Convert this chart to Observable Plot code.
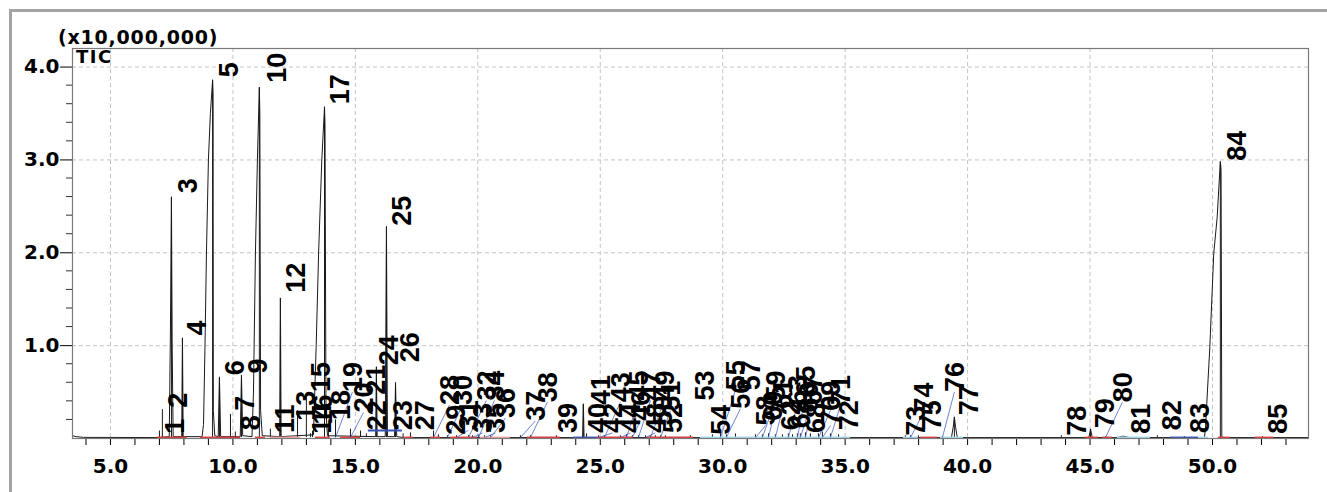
<!DOCTYPE html>
<html><head><meta charset="utf-8">
<script src="https://cdn.jsdelivr.net/npm/d3@7"></script>
<script src="https://cdn.jsdelivr.net/npm/@observablehq/plot@0.6"></script>
<style>
html,body{margin:0;padding:0;background:#fff;overflow:hidden;}
#chart{position:relative;width:1327px;height:492px;overflow:hidden;background:#fff;}
#border{position:absolute;left:9px;top:9px;width:1400px;height:600px;border:3px solid #a3a3a3;pointer-events:none;}
</style></head><body><div id="chart"><div id="border"></div></div>
<script>
// ---- axes ----
const xDomain = [3.45, 53.92];
const yDomain = [0, 4.2];
const xMinorTicks = [4,5,6,7,8,9,10,11,12,13,14,15,16,17,18,19,20,21,22,23,24,25,26,27,28,29,30,31,32,33,34,35,36,37,38,39,40,41,42,43,44,45,46,47,48,49,50,51,52,53];
const xMajorTicks = [5,10,15,20,25,30,35,40,45,50];
const xTickLabels = ["5.0","10.0","15.0","20.0","25.0","30.0","35.0","40.0","45.0","50.0"];
const yMajorTicks = [1,2,3,4];
const yTickLabels = ["1.0","2.0","3.0","4.0"];
const yMinorTicks = [0.2,0.4,0.6,0.8,1.2,1.4,1.6,1.8,2.2,2.4,2.6,2.8,3.2,3.4,3.6,3.8];
const scaleNote = "(x10,000,000)";
const traceName = "TIC";

// ---- TIC trace (retention time, min / intensity x1e7) ----
const traceTime = [3.45,3.60,3.90,6.90,
  7.40,7.45,7.49,7.52,7.56,
  7.91,7.94,7.97,
  8.74,8.80,8.86,8.92,9.00,9.08,9.17,9.19,9.20,9.26,
  9.40,9.45,9.50,
  10.30,10.35,10.40,
  10.78,10.84,10.92,11.00,11.08,11.10,11.13,11.20,
  11.91,11.94,11.97,
  13.29,13.40,13.50,13.63,13.74,13.76,13.80,13.86,
  15.83,15.86,15.89,
  16.22,16.27,16.31,
  16.60,16.64,16.69,
  17.00,
  24.28,24.31,24.34,
  39.34,39.41,39.46,39.51,39.58,
  44.95,45.02,45.09,
  46.10,46.35,46.60,
  49.67,49.71,49.89,50.05,50.19,50.32,50.35,50.38,50.45,
  53.92];
const traceSignal = [0.03,0.02,0.012,0.01,
  0.02,1.20,2.60,1.00,0.02,
  0.02,1.08,0.02,
  0.02,0.15,1.00,2.00,3.00,3.50,3.86,3.70,0.30,0.03,
  0.02,0.66,0.02,
  0.02,0.68,0.03,
  0.02,0.50,2.00,3.00,3.78,3.50,0.30,0.03,
  0.02,1.51,0.02,
  0.04,1.00,2.00,3.00,3.57,3.40,0.30,0.03,
  0.02,0.77,0.02,
  0.02,2.28,0.02,
  0.02,0.60,0.02,
  0.01,
  0.01,0.37,0.01,
  0.01,0.12,0.23,0.12,0.01,
  0.01,0.10,0.01,
  0.01,0.025,0.01,
  0.01,0.10,0.98,1.99,2.38,2.98,2.90,0.02,0.01,
  0.01];

// ---- peaks ----
const peakNo = d3.range(1, 86);
const peakTime = [7.00,7.12,7.49,7.94,9.17,9.45,9.90,10.10,10.35,11.08,
  11.53,11.94,12.64,13.17,13.00,13.25,13.74,13.90,14.19,14.80,
  15.21,15.45,16.95,15.86,16.27,16.64,17.25,18.19,18.39,18.76,
  19.13,19.62,19.78,20.03,20.27,20.52,21.74,22.15,23.21,24.31,
  24.44,24.93,25.17,25.82,26.07,26.31,26.56,26.85,27.05,27.25,
  27.46,27.66,28.68,29.58,29.91,30.15,30.52,31.34,31.62,31.87,
  32.15,32.44,32.68,32.85,33.05,33.17,33.38,33.58,33.91,34.07,
  34.40,34.73,37.46,37.67,37.99,38.97,39.46,43.83,45.02,45.63,
  46.45,47.75,48.85,50.32,52.04];
const peakHeight = [0.08,0.31,2.60,1.08,3.86,0.66,0.26,0.07,0.68,3.78,
  0.10,1.51,0.30,0.05,0.45,0.08,3.57,0.10,0.20,0.10,
  0.08,0.05,0.05,0.77,2.28,0.60,0.06,0.08,0.04,0.03,
  0.03,0.03,0.03,0.03,0.03,0.03,0.03,0.03,0.03,0.37,
  0.05,0.03,0.03,0.03,0.04,0.03,0.03,0.03,0.03,0.03,
  0.03,0.03,0.03,0.04,0.05,0.04,0.05,0.04,0.04,0.05,
  0.04,0.04,0.05,0.04,0.05,0.05,0.06,0.05,0.05,0.07,
  0.05,0.04,0.03,0.03,0.03,0.02,0.23,0.03,0.10,0.02,
  0.02,0.03,0.02,2.98,0.02];
// label anchor: time of label centre, intensity at label foot
const labelTime = [7.59,7.74,8.12,8.51,9.80,10.04,10.47,10.72,10.98,11.78,
  12.10,12.55,12.96,13.62,13.57,13.66,14.35,14.39,14.88,15.33,
  15.82,15.86,16.92,16.35,16.88,17.21,17.82,18.84,19.09,19.37,
  19.62,20.35,20.19,20.68,20.72,21.13,22.35,22.84,23.66,24.89,
  25.01,25.50,25.82,26.23,26.56,26.64,27.05,27.25,27.62,27.54,
  27.87,27.95,29.25,29.91,30.52,30.72,31.13,31.75,32.15,32.03,
  32.44,32.77,33.05,33.17,33.38,33.50,33.66,33.79,34.40,34.40,
  34.81,35.13,37.87,38.20,38.52,39.46,40.03,44.44,45.59,46.32,
  47.06,48.32,49.47,50.96,52.65];
const labelLevel = [0.05,0.33,2.64,1.11,3.89,0.68,0.30,0.09,0.70,3.83,
  0.06,1.57,0.19,0.05,0.50,0.15,3.60,0.20,0.50,0.28,
  0.47,0.09,0.09,0.79,2.29,0.82,0.09,0.36,0.04,0.36,
  0.09,0.41,0.06,0.41,0.06,0.22,0.19,0.39,0.06,0.06,
  0.36,0.06,0.39,0.06,0.41,0.19,0.41,0.06,0.41,0.14,
  0.30,0.06,0.41,0.04,0.52,0.32,0.52,0.14,0.41,0.19,
  0.32,0.09,0.36,0.11,0.46,0.28,0.36,0.06,0.30,0.14,
  0.36,0.09,0.03,0.28,0.09,0.50,0.25,0.03,0.11,0.39,
  0.05,0.09,0.06,2.99,0.05];
const leaderPeaks = [19,20,28,30,31,32,33,34,35,36,37,38,42,43,44,45,46,47,48,49,51,55,56,58,59,60,61,63,65,66,67,69,70,71,74,76,80];

// ---- integration baselines ----
const segStart = [6.92,8.67,10.92,11.53,13.37,14.39,16.96,18.07,18.88,20.11,
  22.03,23.91,24.89,26.93,29.09,37.38,38.07,38.89,44.81,45.51,
  46.12,48.28,49.43,50.24,51.75,15.53];
const segEnd = [8.14,10.31,11.33,12.76,13.98,15.21,17.37,18.48,19.99,21.33,
  23.37,24.89,26.36,28.81,35.22,37.99,38.77,39.83,45.34,45.91,
  47.47,49.43,49.83,50.73,52.49,16.92];
const segKind = ["red","red","red","pink","red","red","red","red","red","pink",
  "red","blue","red","red","cyan","cyan","red","cyan","red","red",
  "cyan","blue","cyan","red","red","blue"];
const segLevel = [0.01,0.01,0.01,0.01,0.01,0.01,0.01,0.01,0.01,0.01,
  0.01,0.01,0.01,0.01,0.01,0.01,0.01,0.01,0.01,0.01,
  0.01,0.01,0.01,0.01,0.01,0.085];

// ---- build tables ----
const kindColor = {red: "#e23b3b", pink: "#f2a3a3", cyan: "#a6dcef", blue: "#3552b5"};
const trace = traceTime.map((t, i) => ({t, v: traceSignal[i]}));
const peaks = peakNo.map((no, i) => ({no, t: peakTime[i], h: peakHeight[i], lt: labelTime[i], ll: labelLevel[i]}));
const leaders = peaks.filter(d => leaderPeaks.includes(d.no));
const segments = segStart.map((s, i) => ({start: s, end: segEnd[i], level: segLevel[i], color: kindColor[segKind[i]]}));

const plot = Plot.plot({
  width: 1327, height: 492,
  marginLeft: 72, marginRight: 19, marginTop: 48, marginBottom: 54,
  style: {fontFamily: "'DejaVu Sans', sans-serif", fontSize: "20px", fontWeight: "bold", color: "#000", background: "#fff", overflow: "visible"},
  x: {domain: xDomain, ticks: xMinorTicks, tickSize: 7, tickPadding: 13, label: null,
      tickFormat: d => { const i = xMajorTicks.indexOf(d); return i >= 0 ? xTickLabels[i] : ""; }},
  y: {domain: yDomain, ticks: yMajorTicks, tickSize: 12, tickPadding: 1, label: null,
      tickFormat: d => yTickLabels[yMajorTicks.indexOf(d)]},
  color: {type: "identity"},
  marks: [
    Plot.ruleX(xMajorTicks, {stroke: "#c4c4c4", strokeDasharray: "4,3"}),
    Plot.ruleY(yMajorTicks, {stroke: "#c4c4c4", strokeDasharray: "4,3"}),
    Plot.line(trace, {x: "t", y: "v", stroke: "#1a1a1a", strokeWidth: 1}),
    Plot.ruleX(peaks, {x: "t", y1: 0.01, y2: "h", stroke: "#1a1a1a", strokeWidth: 1}),
    Plot.ruleY(segments, {y: "level", x1: "start", x2: "end", stroke: "color", strokeWidth: 2}),
    Plot.link(leaders, {x1: "lt", y1: "ll", x2: "t", y2: 0.01, stroke: "#4a64c8", strokeWidth: 0.8}),
    Plot.text(peaks, {x: "lt", y: "ll", text: d => String(d.no), rotate: -90, textAnchor: "start", lineAnchor: "middle", dx: 1,
      fontFamily: "'Liberation Sans', Arial, sans-serif", fontSize: 27, fontWeight: "bold", fill: "#000", ariaLabel: "peak-labels"}),
    Plot.frame({stroke: "#7a7a7a", strokeWidth: 1.2})
  ]
});

const svg = d3.select(plot);
svg.selectAll('g[aria-label="peak-labels"] text').each(function() {
  const t = this.getAttribute("transform") || "";
  this.setAttribute("transform", t + " scale(0.74,1)");
});
const xs = plot.scale("x"), ys = plot.scale("y");
const x0 = xs.apply(xDomain[0]);
const mg = svg.append("g").attr("stroke", "#333").attr("stroke-width", 1);
yMinorTicks.forEach(v => {
  const yy = ys.apply(v);
  mg.append("line").attr("x1", x0 - 6).attr("x2", x0).attr("y1", yy).attr("y2", yy);
});
svg.append("text").attr("x", x0 - 14).attr("y", 44).attr("text-anchor", "start")
  .attr("font-family", "'DejaVu Sans', sans-serif").attr("font-weight", "bold").attr("font-size", 19)
  .attr("letter-spacing", "0.8px").attr("fill", "#000").text(scaleNote);
svg.append("text").attr("x", x0 + 4).attr("y", 63).attr("text-anchor", "start")
  .attr("font-family", "'DejaVu Sans', sans-serif").attr("font-weight", "bold").attr("font-size", 18)
  .attr("letter-spacing", "1.5px").attr("fill", "#000").text(traceName);

plot.style.position = "absolute";
plot.style.left = "0px";
plot.style.top = "0px";
document.getElementById("chart").insertBefore(plot, document.getElementById("border"));
</script>
</body></html>
